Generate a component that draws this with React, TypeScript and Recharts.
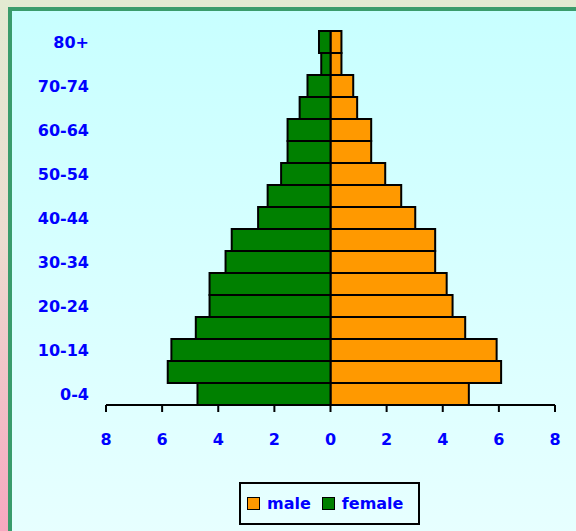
import React from "react";
import { BarChart, Bar, XAxis, YAxis, Legend } from "recharts";

// age groups, youngest first
const ageGroups = [
  "0-4", "5-9", "10-14", "15-19", "20-24", "25-29", "30-34", "35-39", "40-44",
  "45-49", "50-54", "55-59", "60-64", "65-69", "70-74", "75-79", "80+",
];
const maleValues = [4.93, 6.08, 5.92, 4.8, 4.35, 4.14, 3.73, 3.73, 3.02, 2.52, 1.95, 1.45, 1.45, 0.95, 0.81, 0.39, 0.39];
const femaleValues = [4.74, 5.8, 5.67, 4.8, 4.31, 4.31, 3.74, 3.52, 2.58, 2.24, 1.76, 1.53, 1.53, 1.1, 0.82, 0.33, 0.41];
const xTicks = [-8, -6, -4, -2, 0, 2, 4, 6, 8];

const MALE = "#ff9900";
const FEMALE = "#008000";
const LABEL = "#0000ff";
const FONT = "'DejaVu Sans', Verdana, sans-serif";

const data = ageGroups.map((age, i) => ({
  age,
  male: maleValues[i],
  female: -femaleValues[i],
}));

function PyramidLegend() {
  const swatch = (color: string) => (
    <span
      style={{
        display: "inline-block",
        width: 11,
        height: 11,
        background: color,
        border: "1.5px solid #000",
        marginRight: 7,
      }}
    />
  );
  return (
    <div
      style={{
        boxSizing: "border-box",
        width: 181,
        height: 43,
        border: "2px solid #000",
        display: "flex",
        alignItems: "center",
        paddingLeft: 6,
        fontFamily: FONT,
        fontWeight: "bold",
        fontSize: 16,
        color: LABEL,
      }}
    >
      {swatch(MALE)}
      <span style={{ marginRight: 11 }}>male</span>
      {swatch(FEMALE)}
      <span>female</span>
    </div>
  );
}

export default function App() {
  return (
    <div
      style={{
        position: "relative",
        width: 576,
        height: 531,
        overflow: "hidden",
        background: "linear-gradient(to bottom, #e2ead2 0%, #ecdcd0 45%, #f7a8c0 100%)",
      }}
    >
      <style>{`body { margin: 0; }`}</style>
      <div
        style={{
          position: "absolute",
          left: 8,
          top: 7,
          width: 580,
          height: 540,
          borderLeft: "4px solid #3a9c6c",
          borderTop: "4px solid #3a9c6c",
          background: "linear-gradient(to bottom, #c8ffff 0%, #e8ffff 100%)",
        }}
      />
      <div style={{ position: "absolute", left: 0, top: 0 }}>
        <BarChart
          width={576}
          height={531}
          data={data}
          layout="vertical"
          stackOffset="sign"
          barCategoryGap={0}
          margin={{ top: 31, right: 21, bottom: 96, left: 0 }}
        >
          <XAxis
            type="number"
            domain={[-8, 8]}
            ticks={xTicks}
            tickFormatter={(v: number) => String(Math.abs(v))}
            axisLine={{ stroke: "#000", strokeWidth: 2 }}
            tickLine={{ stroke: "#000", strokeWidth: 2 }}
            tickSize={7}
            tickMargin={22}
            height={30}
            tick={{ fill: LABEL, fontFamily: FONT, fontWeight: "bold", fontSize: 16 }}
          />
          <YAxis
            type="category"
            dataKey="age"
            reversed
            interval={1}
            width={106}
            axisLine={false}
            tickLine={false}
            tickSize={0}
            tickMargin={17}
            tick={{ fill: LABEL, fontFamily: FONT, fontWeight: "bold", fontSize: 16 }}
          />
          <Legend
            verticalAlign="middle"
            align="center"
            layout="horizontal"
            wrapperStyle={{ left: 239, top: 482, width: 181 }}
            content={() => <PyramidLegend />}
          />
          <Bar dataKey="male" name="male" stackId="a" fill={MALE} stroke="#000" strokeWidth={2} isAnimationActive={false} />
          <Bar dataKey="female" name="female" stackId="a" fill={FEMALE} stroke="#000" strokeWidth={2} isAnimationActive={false} />
        </BarChart>
      </div>
    </div>
  );
}
